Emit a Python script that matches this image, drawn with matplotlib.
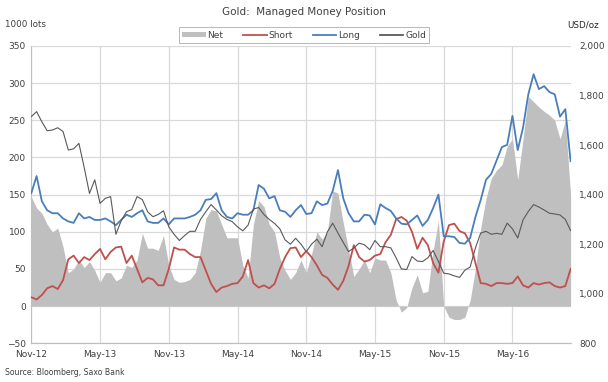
import matplotlib
matplotlib.use("Agg")
import matplotlib.pyplot as plt
import pandas as pd
from matplotlib.lines import Line2D
from matplotlib.patches import Patch
from matplotlib.ticker import FuncFormatter, MultipleLocator


# biweekly readings, Nov-2012 .. Oct-2016 (1000 lots, gold in USD/oz)
START = "2012-11-06"

NET = [147, 132, 125, 110, 100, 105, 80, 45, 50, 62,
       52, 60, 48, 32, 45, 45, 34, 38, 55, 52,
       62, 98, 78, 78, 75, 95, 55, 36, 32, 33,
       36, 45, 75, 118, 130, 128, 110, 92, 92, 92,
       55, 38, 110, 142, 134, 110, 100, 65, 48, 36,
       45, 62, 45, 70, 100, 90, 100, 155, 152, 112,
       76, 40, 50, 62, 45, 65, 62, 62, 45, 8,
       -8, -2, 25, 42, 18, 20, 75, 115, 0, -15,
       -18, -18, -15, 8, 50, 105, 145, 172, 183, 190,
       215, 225, 170, 225, 282, 275, 268, 262, 257, 250,
       225, 250, 150]

SHORT = [12, 9, 15, 24, 27, 23, 35, 63, 68, 58,
         66, 62, 70, 77, 63, 73, 79, 80, 58, 68,
         50, 32, 38, 36, 28, 28, 50, 79, 76, 76,
         70, 66, 66, 48, 30, 19, 25, 27, 30, 31,
         40, 62, 31, 25, 28, 24, 30, 50, 66, 78,
         79, 66, 74, 66, 55, 42, 38, 29, 22, 34,
         54, 82, 66, 60, 62, 68, 70, 86, 96, 117,
         120, 115, 100, 77, 92, 82, 58, 45, 87, 109,
         111, 101, 98, 85, 58, 31, 30, 27, 31, 31,
         30, 31, 40, 28, 25, 31, 29, 31, 32, 27,
         25, 27, 50]

LONG = [152, 175, 141, 129, 125, 125, 118, 114, 112, 125,
        118, 120, 116, 116, 118, 114, 109, 116, 123, 120,
        125, 129, 114, 112, 112, 118, 110, 118, 118, 118,
        120, 123, 129, 143, 144, 152, 129, 120, 118, 125,
        123, 123, 129, 163, 158, 145, 148, 129, 127, 120,
        129, 136, 124, 125, 141, 136, 138, 155, 183, 145,
        125, 114, 114, 123, 122, 110, 137, 132, 128, 118,
        111, 110, 116, 122, 108, 116, 132, 150, 94, 94,
        93, 85, 84, 92, 120, 143, 170, 178, 196, 214,
        217, 256, 210, 240, 285, 312, 292, 296, 288, 285,
        255, 265, 195]

GOLD = [1715, 1735, 1694, 1658, 1661, 1670, 1655, 1580, 1585, 1607,
        1510, 1405, 1460, 1365, 1385, 1392, 1240, 1295, 1331, 1340,
        1392, 1380, 1331, 1311, 1320, 1335, 1270, 1240, 1215, 1235,
        1252, 1252, 1300, 1331, 1360, 1338, 1315, 1300, 1291, 1270,
        1254, 1277, 1342, 1348, 1320, 1300, 1284, 1262, 1217, 1200,
        1224, 1200, 1170, 1200, 1220, 1190, 1250, 1285, 1245, 1207,
        1170, 1185, 1204, 1198, 1178, 1215, 1190, 1190, 1185, 1145,
        1100, 1098, 1150, 1132, 1130, 1145, 1175, 1130, 1083, 1080,
        1072, 1066, 1095, 1108, 1185, 1245, 1252, 1240, 1244, 1240,
        1285, 1262, 1225, 1298, 1332, 1360, 1350, 1338, 1325, 1322,
        1318, 1300, 1255]

TICK_LABELS = ["Nov-12", "May-13", "Nov-13", "May-14",
               "Nov-14", "May-15", "Nov-15", "May-16"]

NET_GRAY = "#bfbfbf"
SHORT_RED = "#c0504d"
LONG_BLUE = "#4a7ebb"
GOLD_INK = "#595959"
GRID = "#d9d9d9"
TEXT = "#404040"


def main():
    dates = pd.date_range(START, periods=len(NET), freq="14D")

    fig = plt.figure(figsize=(6.08, 3.82), dpi=100)
    ax = fig.add_axes([0.0515, 0.1013, 0.887, 0.7783])
    ax2 = ax.twinx()

    ax.fill_between(dates, 0, NET, color=NET_GRAY, lw=0, zorder=2)
    ax.plot(dates, SHORT, color=SHORT_RED, lw=1.3, zorder=3)
    ax.plot(dates, LONG, color=LONG_BLUE, lw=1.3, zorder=4)
    ax2.plot(dates, GOLD, color=GOLD_INK, lw=0.8, zorder=5)

    ax.set_xlim(dates[0], dates[-1])
    ax.set_ylim(-50, 350)
    ax.yaxis.set_major_locator(MultipleLocator(50))
    ax2.set_ylim(800, 2000)
    ax2.yaxis.set_major_locator(MultipleLocator(200))
    ax2.yaxis.set_major_formatter(FuncFormatter(lambda v, p: f"{v:,.0f}"))

    ax.set_xticks(dates[::13][:len(TICK_LABELS)])
    ax.set_xticklabels(TICK_LABELS)

    ax.grid(True, color=GRID, lw=0.9, zorder=0)
    ax.set_axisbelow(True)
    for a in (ax, ax2):
        for side in ("top", "right"):
            a.spines[side].set_visible(False)
        a.spines["left"].set_visible(False)
        a.spines["bottom"].set_color(NET_GRAY)
    ax.spines["left"].set_visible(True)
    ax.spines["left"].set_color(NET_GRAY)

    ax.tick_params(axis="y", length=0, pad=4, labelsize=6.5, labelcolor=TEXT)
    ax.tick_params(axis="x", length=0, pad=5, labelsize=6.5, labelcolor=TEXT)
    ax2.tick_params(axis="y", length=0, pad=6, labelsize=6.5, labelcolor=TEXT)

    handles = [
        Patch(facecolor=NET_GRAY, edgecolor="none", label="Net"),
        Line2D([], [], color=SHORT_RED, lw=1.3, label="Short"),
        Line2D([], [], color=LONG_BLUE, lw=1.3, label="Long"),
        Line2D([], [], color=GOLD_INK, lw=1.3, label="Gold"),
    ]
    leg = fig.legend(handles=handles, loc="upper center", ncol=4,
                     bbox_to_anchor=(0.5, 0.94), fontsize=6.5, frameon=True,
                     fancybox=False, handlelength=2.6, handleheight=0.6,
                     columnspacing=2.2, handletextpad=0.2, borderpad=0.35)
    leg.get_frame().set_edgecolor("#a6a6a6")
    leg.get_frame().set_linewidth(0.7)
    for t in leg.get_texts():
        t.set_color(TEXT)

    fig.text(0.5, 0.968, "Gold:  Managed Money Position", ha="center",
             va="center", fontsize=7.5, color=TEXT)
    fig.text(0.008, 0.935, "1000 lots", ha="left", va="center",
             fontsize=6.3, color=TEXT)
    fig.text(0.985, 0.935, "USD/oz", ha="right", va="center",
             fontsize=6.3, color="#262626")
    fig.text(0.008, 0.026, "Source: Bloomberg, Saxo Bank", ha="left",
             va="center", fontsize=5.6, color=TEXT)

    fig.savefig("out.png", dpi=100)
    plt.close(fig)


if __name__ == "__main__":
    main()
